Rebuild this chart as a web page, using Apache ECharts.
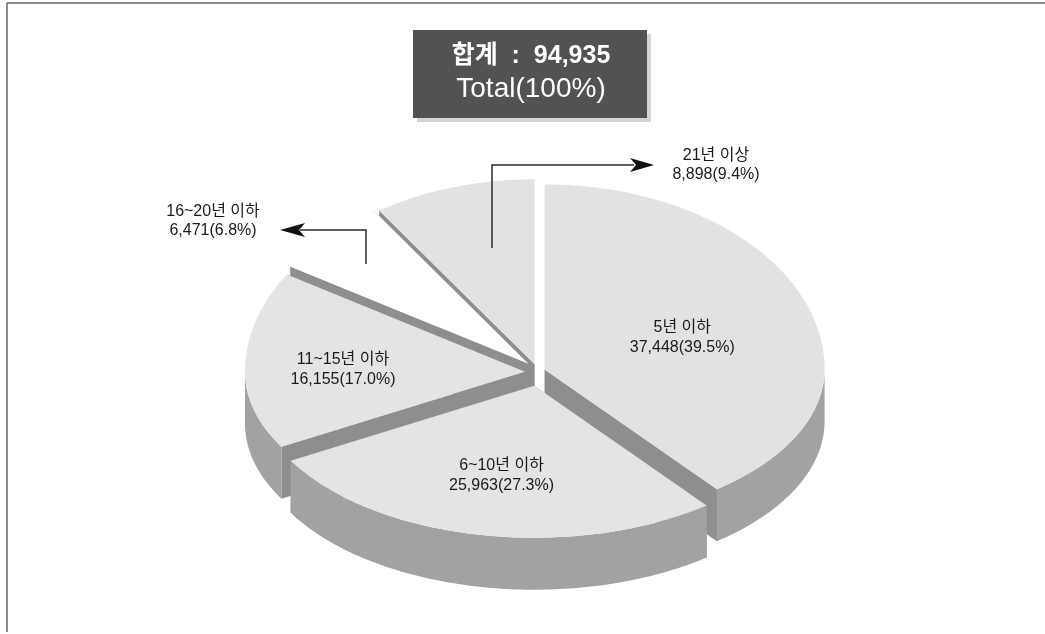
<!DOCTYPE html>
<html>
<head>
<meta charset="utf-8">
<script src="https://cdn.jsdelivr.net/npm/echarts@6/dist/echarts.min.js"></script>
<style>
  html, body { margin: 0; background: #fff; }
  #chart { width: 1045px; height: 634px; }
</style>
</head>
<body>
<div id="chart"></div>
<script>
const categories = ['5년 이하', '6~10년 이하', '11~15년 이하', '16~20년 이하', '21년 이상'];
const counts = [37448, 25963, 16155, 6471, 8898];
const percents = ['39.5', '27.3', '17.0', '6.8', '9.4'];

const FONT = '"Liberation Sans", Arial, "Noto Sans CJK KR", sans-serif';
const total = counts.reduce((a, b) => a + b, 0);
const fmt = (n) => n.toLocaleString('en-US');

// pie geometry (flattened, pseudo 3d)
const cx = 537, cy = 372, rx = 280, ryTop = 185, ryBot = 152, depth = 52;
const explode = [8, 14, 12, 12, 8];
const topColor = ['#e2e2e2', '#e4e4e4', '#e4e4e4', '#ffffff', '#e2e2e2'];
const labelR = [0.52, 0.6, 0.65, 0, 0];
const drawOrder = [4, 3, 2, 0, 1]; // back to front

// angles clockwise from 12 o'clock
const starts = [];
let acc = 0;
counts.forEach((v) => { starts.push(acc / total * Math.PI * 2); acc += v; });

function pt(a, r, off) {
  const s = Math.sin(a), c = Math.cos(a);
  const ry = c > 0 ? ryTop : ryBot;
  return [cx + off[0] + rx * r * s, cy + off[1] - ry * r * c];
}
const down = (p) => [p[0], p[1] + depth];

function renderItem(params, api) {
  const i = params.dataIndex;
  const a0 = starts[i];
  const a1 = a0 + api.value(0) / total * Math.PI * 2;
  const mid = (a0 + a1) / 2;
  const off = [Math.sin(mid) * explode[i], -Math.cos(mid) * explode[i]];
  const apex = pt(0, 0, off);
  const n = Math.max(2, Math.ceil((a1 - a0) / (Math.PI / 180)));
  const arc = [];
  for (let k = 0; k <= n; k++) arc.push(pt(a0 + (a1 - a0) * k / n, 1, off));

  const z = drawOrder.indexOf(i) * 10;
  const children = [];
  // radial faces
  [arc[0], arc[n]].forEach((e) => {
    children.push({
      type: 'polygon', z2: z,
      shape: { points: [apex, e, down(e), down(apex)] },
      style: { fill: '#8e8e8e' }
    });
  });
  // outer wall (front facing part only)
  const f0 = Math.max(a0, Math.PI / 2), f1 = Math.min(a1, Math.PI * 1.5);
  if (f1 > f0) {
    const m = Math.max(2, Math.ceil((f1 - f0) / (Math.PI / 180)));
    const top = [];
    for (let k = 0; k <= m; k++) top.push(pt(f0 + (f1 - f0) * k / m, 1, off));
    const bottom = top.map(down).reverse();
    children.push({
      type: 'polygon', z2: z + 1,
      shape: { points: top.concat(bottom) },
      style: {
        fill: new echarts.graphic.LinearGradient(0, 0, 1, 0, [
          { offset: 0, color: '#a4a4a4' },
          { offset: 0.5, color: '#b0b0b0' },
          { offset: 1, color: '#a2a2a2' }
        ], true)
      }
    });
  }
  // top face
  children.push({
    type: 'polygon', z2: z + 2,
    shape: { points: [apex].concat(arc) },
    style: { fill: topColor[i] }
  });
  // inner label
  if (labelR[i] > 0) {
    const lp = pt(mid, labelR[i], off);
    children.push({
      type: 'text', z2: z + 3,
      style: {
        text: categories[i] + '\n' + fmt(counts[i]) + '(' + percents[i] + '%)',
        x: lp[0], y: lp[1],
        align: 'center', verticalAlign: 'middle',
        fontFamily: FONT, fontSize: 16, lineHeight: 20, fill: '#1a1a1a'
      }
    });
  }
  return { type: 'group', children };
}

const lineStyle = { stroke: '#2a2a2a', lineWidth: 1.5, fill: null };
const labelStyle = { fontFamily: FONT, fontSize: 16, lineHeight: 19, fill: '#1a1a1a', align: 'center', verticalAlign: 'middle' };

const chart = echarts.init(document.getElementById('chart'));
chart.setOption({
  animation: false,
  backgroundColor: '#ffffff',
  graphic: {
    elements: [
      // frame
      { type: 'line', z: 100, shape: { x1: 7, y1: 3, x2: 1045, y2: 3 }, style: { stroke: '#666', lineWidth: 1.5 } },
      { type: 'line', z: 100, shape: { x1: 7, y1: 3, x2: 7, y2: 632 }, style: { stroke: '#666', lineWidth: 1.5 } },
      // total box
      { type: 'rect', z: 100, shape: { x: 417, y: 34, width: 234, height: 88 }, style: { fill: '#d4d4d4' } },
      { type: 'rect', z: 101, shape: { x: 413, y: 30, width: 234, height: 88 }, style: { fill: '#525252' } },
      { type: 'text', z: 102, style: { text: '합계  :  ' + fmt(total), x: 531, y: 56, align: 'center', verticalAlign: 'middle', fontFamily: FONT, fontSize: 25, fontWeight: 'bold', fill: '#ffffff' } },
      { type: 'text', z: 102, style: { text: 'Total(100%)', x: 531, y: 89, align: 'center', verticalAlign: 'middle', fontFamily: FONT, fontSize: 28, fill: '#ffffff' } },
      // 16~20 callout
      { type: 'polyline', z: 100, shape: { points: [[366, 264], [366, 230], [300, 230]] }, style: lineStyle },
      { type: 'polygon', z: 100, shape: { points: [[280, 230], [305, 223], [299, 230], [305, 237]] }, style: { fill: '#111' } },
      { type: 'text', z: 100, style: Object.assign({ text: categories[3] + '\n' + fmt(counts[3]) + '(' + percents[3] + '%)', x: 213, y: 221 }, labelStyle) },
      // 21 callout
      { type: 'polyline', z: 100, shape: { points: [[492, 248], [492, 165], [634, 165]] }, style: lineStyle },
      { type: 'polygon', z: 100, shape: { points: [[654, 165], [630, 158], [636, 165], [630, 172]] }, style: { fill: '#111' } },
      { type: 'text', z: 100, style: Object.assign({ text: categories[4] + '\n' + fmt(counts[4]) + '(' + percents[4] + '%)', x: 716, y: 165 }, labelStyle) }
    ]
  },
  series: [{
    type: 'custom',
    coordinateSystem: 'none',
    renderItem: renderItem,
    data: counts.map((v, i) => ({ name: categories[i], value: [v] }))
  }]
});
</script>
</body>
</html>
